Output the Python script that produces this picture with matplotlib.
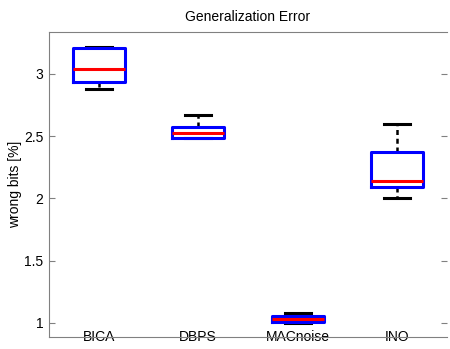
import matplotlib
matplotlib.use("Agg")
import matplotlib.pyplot as plt

plt.rcParams['font.family'] = ['Liberation Sans', 'DejaVu Sans']

# data
labels = ["BICA", "DBPS", "MACnoise", "INO"]
whislo = [2.88, 2.488, 0.997, 2.00]
q1 = [2.936, 2.488, 1.005, 2.088]
med = [3.04, 2.523, 1.03, 2.142]
q3 = [3.21, 2.576, 1.05, 2.372]
whishi = [3.217, 2.67, 1.08, 2.595]

stats = []
for i in range(len(labels)):
    stats.append(dict(label=labels[i], whislo=whislo[i], q1=q1[i], med=med[i],
                      q3=q3[i], whishi=whishi[i], fliers=[]))

fig = plt.figure(figsize=(4.5, 3.49), dpi=100)
ax = fig.add_axes([0.109, 0.0344, 0.884, 0.874])

ax.bxp(stats, positions=[1, 2, 3, 4], widths=0.52, showfliers=False,
       boxprops=dict(color='#0000ff', linewidth=2.2, zorder=3),
       medianprops=dict(color='#ff0000', linewidth=2.2, zorder=4),
       whiskerprops=dict(color='black', linewidth=1.8, linestyle=(0, (2, 1.5)), zorder=2),
       capprops=dict(color='black', linewidth=2.2, zorder=2),
       capwidths=0.26)

ax.set_xlim(0.5, 4.5)
ax.set_ylim(0.885, 3.338)
ax.set_yticks([1, 1.5, 2, 2.5, 3])
ax.set_yticklabels(["1", "1.5", "2", "2.5", "3"])
ax.set_xticks([])
ax.tick_params(axis='y', direction='in', length=4, color='#808080',
               labelsize=10, right=True, pad=4)
for s in ax.spines.values():
    s.set_color('#808080')
    s.set_linewidth(0.8)
ax.spines['right'].set_visible(False)

# labels sit on the bottom axis line like in matlab boxplot
for i in range(len(labels)):
    ax.text(i + 1, 0, labels[i], transform=ax.get_xaxis_transform(),
            ha='center', va='center', fontsize=10, zorder=0)

ax.set_ylabel("wrong bits [%]", fontsize=10)
ax.yaxis.set_label_coords(-0.068, 0.5)
ax.set_title("Generalization Error", fontsize=10, pad=8)

fig.savefig("out.png", dpi=100)
